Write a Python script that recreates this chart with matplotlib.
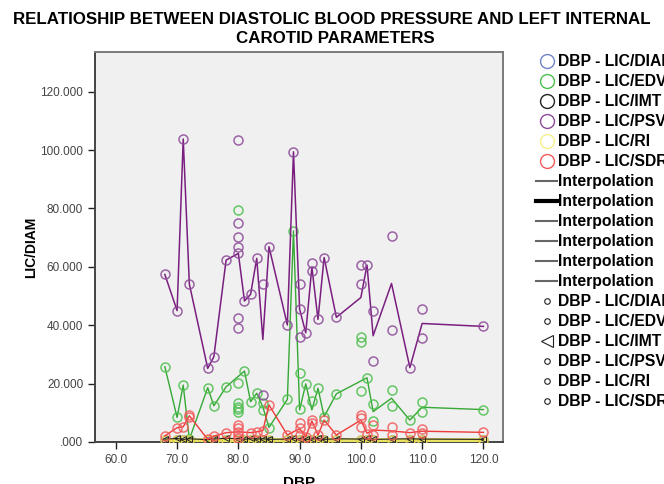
import matplotlib
matplotlib.use("Agg")
import matplotlib.pyplot as plt
from matplotlib.lines import Line2D
from matplotlib.ticker import FuncFormatter

plt.rcParams['font.family'] = ['Liberation Sans', 'DejaVu Sans']

# ---- data ----
# PSV (purple)
psv_x = [68, 70, 71, 72, 75, 76, 78, 80, 80, 80, 80, 80, 80, 80, 81, 82, 83, 84, 84, 85, 88, 89,
         90, 90, 90, 91, 92, 92, 93, 94, 96, 100, 100, 101, 102, 102, 105, 105, 108, 110, 110, 120]
psv_y = [57.4, 45.0, 103.8, 54.1, 25.2, 29.2, 62.3, 103.4, 75.1, 70.3, 66.9, 64.6, 42.5, 39.1,
         48.3, 50.6, 62.9, 54.1, 16.1, 66.9, 40.1, 99.4, 54.1, 45.5, 36.1, 37.4, 61.2, 58.6, 42.0,
         63.2, 42.7, 60.6, 54.1, 60.6, 44.9, 27.8, 70.5, 38.4, 25.5, 45.5, 35.6, 39.6]
psv_lx = [68, 70, 71, 72, 75, 76, 78, 80, 81, 82, 83, 84, 85, 88, 89, 90, 91, 92, 93, 94, 96,
          100, 101, 102, 105, 108, 110, 120]
psv_ly = [57.4, 45.0, 103.8, 54.1, 25.2, 29.2, 62.3, 64.6, 48.3, 50.6, 62.9, 35.1, 66.9, 40.1,
          99.4, 45.5, 37.4, 59.9, 42.0, 63.2, 42.7, 49.5, 60.6, 36.4, 54.3, 25.5, 40.6, 39.6]

# EDV (green)
edv_x = [68, 70, 71, 72, 75, 76, 78, 80, 80, 80, 80, 80, 80, 81, 82, 83, 84, 84, 85, 88, 89,
         90, 90, 91, 92, 93, 94, 96, 100, 100, 100, 101, 102, 102, 105, 105, 108, 110, 110, 120]
edv_y = [25.8, 8.4, 19.5, 0.9, 18.6, 12.4, 18.9, 79.5, 20.3, 13.2, 12.1, 11.2, 10.4, 24.3, 13.8,
         16.7, 11.0, 13.5, 4.9, 14.6, 72.3, 23.5, 11.2, 19.9, 14.1, 18.4, 8.7, 16.5, 36.1, 34.1,
         17.5, 22.0, 12.9, 7.3, 17.8, 12.4, 7.5, 13.6, 10.2, 11.1]
edv_lx = [68, 70, 71, 72, 75, 76, 78, 81, 82, 83, 84, 85, 88, 89, 90, 91, 92, 93, 94, 96, 101,
          102, 105, 108, 110, 120]
edv_ly = [25.8, 8.4, 19.5, 0.9, 18.6, 12.4, 18.9, 24.3, 13.8, 16.7, 12.0, 5.0, 14.6, 72.3, 11.0,
          19.9, 11.0, 18.4, 8.7, 16.5, 22.0, 10.4, 15.0, 7.5, 11.9, 11.1]

# S/D (red)
sd_x = [68, 70, 71, 72, 72, 75, 76, 78, 80, 80, 80, 80, 80, 82, 83, 84, 85, 88, 90, 90, 90, 91,
        92, 92, 93, 94, 96, 100, 100, 100, 101, 102, 102, 105, 105, 108, 110, 110, 120]
sd_y = [2.1, 4.9, 5.2, 9.2, 8.5, 0.9, 2.0, 3.2, 5.8, 4.7, 3.5, 2.4, 1.3, 3.2, 3.5, 3.9, 12.7,
        2.4, 6.6, 4.7, 2.4, 1.8, 7.7, 6.6, 2.4, 7.5, 2.4, 9.2, 8.1, 5.2, 2.9, 5.8, 2.4, 5.2, 2.4,
        3.2, 4.4, 3.0, 3.3]
sd_lx = [68, 70, 71, 72, 75, 76, 78, 80, 82, 83, 84, 85, 88, 90, 91, 92, 93, 94, 96, 100, 101,
         102, 105, 108, 110, 120]
sd_ly = [2.1, 4.9, 5.2, 9.0, 0.9, 2.0, 3.2, 3.5, 3.2, 3.5, 3.9, 12.7, 2.4, 4.6, 1.8, 7.2, 2.4,
         7.5, 2.4, 7.5, 3.0, 4.1, 3.8, 3.2, 3.7, 3.3]

# small-valued series along the bottom
low_x = [68, 70, 71, 72, 75, 76, 78, 80, 81, 82, 83, 84, 85, 88, 89, 90, 91, 92, 93, 94, 96,
         100, 101, 102, 105, 108, 110, 120]
ri_y = [0.62, 0.66, 0.70, 0.64, 0.60, 0.68, 0.63, 0.65, 0.70, 0.62, 0.66, 0.64, 0.61, 0.67,
        0.72, 0.65, 0.60, 0.68, 0.63, 0.66, 0.62, 0.64, 0.69, 0.63, 0.65, 0.60, 0.66, 0.62]
imt_y = [1.0, 1.2, 0.9, 1.1, 0.8, 1.0, 1.3, 1.1, 0.9, 1.2, 1.0, 1.1, 0.9, 1.0, 1.2, 1.1, 0.9,
         1.0, 1.2, 0.9, 1.1, 1.0, 1.2, 0.9, 1.0, 1.1, 1.0, 0.9]
diam_y = [0.55, 0.52, 0.58, 0.54, 0.50, 0.56, 0.53, 0.55, 0.57, 0.52, 0.54, 0.56, 0.51, 0.55,
          0.58, 0.54, 0.52, 0.55, 0.53, 0.56, 0.54, 0.55, 0.57, 0.52, 0.54, 0.53, 0.55, 0.52]

labels = ['DBP - LIC/DIAM', 'DBP - LIC/EDV', 'DBP - LIC/IMT', 'DBP - LIC/PSV',
          'DBP - LIC/RI', 'DBP - LIC/SDR']

c_blue, c_green, c_black, c_purple, c_yellow, c_red = (
    '#6f84c8', '#4cbf4c', '#222222', '#8c4a99', '#f0ec80', '#f25a5a')

fig = plt.figure(figsize=(6.64, 4.84), dpi=100)
ax = fig.add_axes([95 / 664, 42 / 484, 408 / 664, 390.3 / 484])
ax.set_facecolor('#f0f0f0')

mk = dict(marker='o', ls='none', mfc='none', ms=6.5, mew=1.1)

# DIAM
ax.plot(low_x, diam_y, color=c_blue, lw=1.0, zorder=2)
ax.plot(low_x, diam_y, mec=c_blue, zorder=2, **mk)
# EDV
ax.plot(edv_lx, edv_ly, color='#36a836', lw=1.0, zorder=3)
ax.plot(edv_x, edv_y, mec=c_green, alpha=0.85, zorder=3, **mk)
# PSV
ax.plot(psv_lx, psv_ly, color='#7a1f80', lw=1.1, zorder=4)
ax.plot(psv_x, psv_y, mec=c_purple, alpha=0.85, zorder=4, **mk)
# RI
ax.plot(low_x, ri_y, color='#e8e060', lw=3.0, zorder=5)
ax.plot(low_x, ri_y, mec='#e0d050', zorder=5, **mk)
# IMT
ax.plot(low_x, imt_y, color=c_black, lw=0.8, zorder=6)
ax.plot(low_x, imt_y, marker='<', ls='none', mfc='none', mec=c_black, ms=4, mew=0.7, zorder=6)
# S/D
ax.plot(sd_lx, sd_ly, color='#ee3a3a', lw=1.0, zorder=7)
ax.plot(sd_x, sd_y, mec=c_red, alpha=0.85, zorder=7, **mk)

ax.set_xlim(56.6, 123.2)
ax.set_ylim(0, 133.7)
ax.set_xticks([60, 70, 80, 90, 100, 110, 120])
ax.set_yticks([0, 20, 40, 60, 80, 100, 120])
ax.xaxis.set_major_formatter(FuncFormatter(lambda v, p: f'{v:.1f}'))
ax.yaxis.set_major_formatter(FuncFormatter(lambda v, p: f'{v:.3f}'.lstrip('0') if v == 0 else f'{v:.3f}'))
ax.tick_params(axis='both', direction='out', length=5, width=1, color='#222222',
               labelsize=8.5, labelcolor='#444444', top=False, right=False)
for s in ax.spines.values():
    s.set_color('#7a7a7a')
    s.set_linewidth(1.4)
ax.spines['left'].set_color('#444444')
ax.spines['bottom'].set_color('#444444')

fig.text(332 / 664, 1 - 20 / 484, 'RELATIOSHIP BETWEEN DIASTOLIC BLOOD PRESSURE AND LEFT INTERNAL',
         ha='center', va='center', fontsize=12.2, fontweight='bold')
fig.text(335 / 664, 1 - 38.5 / 484, 'CAROTID PARAMETERS',
         ha='center', va='center', fontsize=12.2, fontweight='bold')
fig.text(299 / 664, -3 / 484, 'DBP', ha='center', va='baseline', fontsize=11, fontweight='bold')
fig.text(31 / 664, 1 - 247 / 484, 'LIC/DIAM', ha='center', va='center', rotation=90,
         fontsize=10, fontweight='bold')

# legend
cols = [c_blue, c_green, c_black, c_purple, '#f4f08a', c_red]
handles = [Line2D([], [], ls='none', marker='o', mfc='none', mec=c, ms=10, mew=1.0) for c in cols]
handles += [Line2D([], [], color='#000000' if i == 1 else '#666666', lw=3 if i == 1 else 1.5)
            for i in range(6)]
handles += [Line2D([], [], ls='none', marker='<' if i == 2 else 'o', mfc='none', mec='#222222',
                   ms=8 if i == 2 else 4, mew=0.8) for i in range(6)]
leg_labels = labels + ['Interpolation'] * 6 + labels
leg = fig.legend(handles, leg_labels, loc='upper left', bbox_to_anchor=(536 / 664, 1 - 54 / 484),
                 frameon=False, borderpad=0, borderaxespad=0, handlelength=1.35,
                 handletextpad=0.05, labelspacing=0.32,
                 prop={'family': ['Liberation Sans', 'DejaVu Sans'], 'weight': 'bold', 'size': 11.3})

fig.savefig('out.png', dpi=100)
